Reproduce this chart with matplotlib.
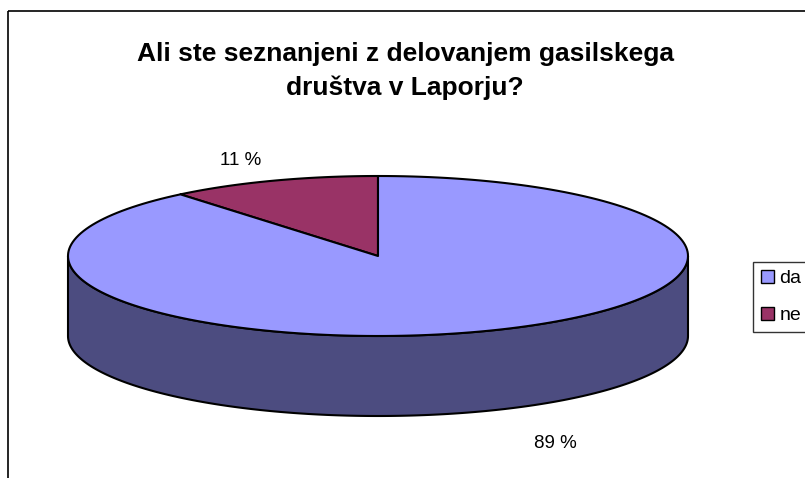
import numpy as np
import matplotlib.pyplot as plt
from matplotlib.patches import Polygon, Rectangle

plt.rcParams['font.family'] = ['Liberation Sans', 'DejaVu Sans']

labels = ['da', 'ne']
values = [89, 11]
top_colors = ['#9999FF', '#993366']
side_colors = ['#4C4C80', '#4D1A33']
title = 'Ali ste seznanjeni z delovanjem gasilskega\ndruštva v Laporju?'

# pie geometry in pixels
cx, cy = 378, 256
rx, ry = 310, 80
depth = 80


def arc(t0, t1, dy=0, n=200):
    t = np.radians(np.linspace(t0, t1, n))
    return np.column_stack([cx + rx * np.cos(t), cy - ry * np.sin(t) + dy])


fig = plt.figure(figsize=(8.05, 4.78), dpi=100)
ax = fig.add_axes([0, 0, 1, 1])
ax.set_xlim(0, 805)
ax.set_ylim(478, 0)
ax.axis('off')

# chart border
ax.add_patch(Rectangle((8, 11), 900, 600, fill=False, edgecolor='black', lw=1.2))

# slice angles: start at top, going counterclockwise ("ne" ends up on the left)
total = float(sum(values))
order = [1, 0]
start = 90.0
angles = {}
for i in order:
    sweep = 360.0 * values[i] / total
    angles[i] = (start, start + sweep)
    start += sweep

# side walls (front half only)
for i in order:
    a0, a1 = angles[i]
    for lo, hi in [(180, 360), (540, 720)]:
        s, e = max(a0, lo), min(a1, hi)
        if e > s:
            pts = np.vstack([arc(s, e), arc(e, s, depth)])
            ax.add_patch(Polygon(pts, closed=True, facecolor=side_colors[i],
                                 edgecolor='black', lw=1.5, joinstyle='round'))

# top faces
for i in order:
    a0, a1 = angles[i]
    pts = np.vstack([[cx, cy], arc(a0, a1)])
    ax.add_patch(Polygon(pts, closed=True, facecolor=top_colors[i],
                         edgecolor='black', lw=1.5, joinstyle='round'))

# data labels, outside the slices
for i in order:
    a0, a1 = angles[i]
    mid = np.radians((a0 + a1) / 2)
    if np.sin(mid) < 0:
        lx = cx + 1.69 * rx * np.cos(mid)
        ly = cy - ry * np.sin(mid) + depth + 32
    else:
        lx = cx + (rx + 97) * np.cos(mid)
        ly = cy - (ry + 22) * np.sin(mid)
    ax.text(lx, ly, '{} %'.format(values[i]), ha='center', va='center', fontsize=13.5)

ax.text(405, 71, title, ha='center', va='center', fontsize=19,
        fontweight='bold', linespacing=1.45)

# legend
handles = [Rectangle((0, 0), 1, 1, facecolor=top_colors[i], edgecolor='black', lw=1)
           for i in range(len(labels))]
leg = ax.legend(handles, labels, loc='upper left', bbox_to_anchor=(753 / 805, 1 - 262 / 478),
                frameon=True, fancybox=False, fontsize=14, handlelength=0.7, handleheight=0.7,
                handletextpad=0.25, borderpad=0.4, labelspacing=1.0, borderaxespad=0)
leg.get_frame().set_edgecolor('black')
leg.get_frame().set_linewidth(1)

fig.savefig('out.png', dpi=100)
